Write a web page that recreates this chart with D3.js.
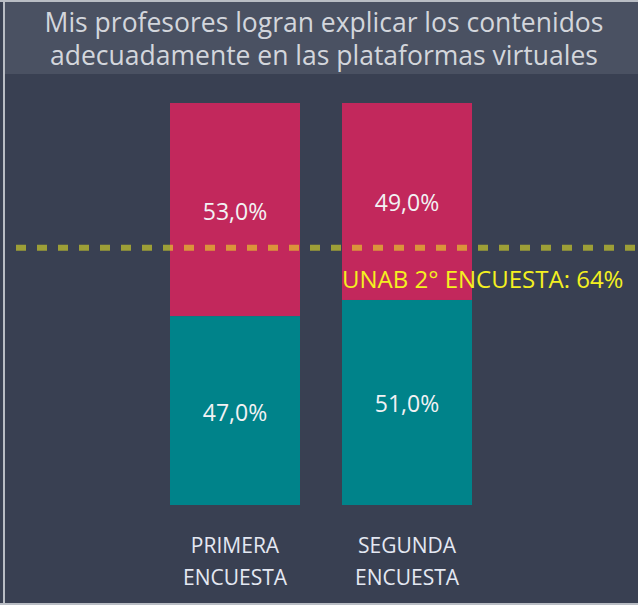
<!DOCTYPE html>
<html><head><meta charset="utf-8">
<script src="https://cdn.jsdelivr.net/npm/d3@7"></script>
<style>body{margin:0;background:#394052;}svg{display:block;}</style>
</head><body>
<svg id="c" width="638" height="605"></svg>
<script>
const titleLines = ["Mis profesores logran explicar los contenidos", "adecuadamente en las plataformas virtuales"];
const categories = [["PRIMERA","ENCUESTA"], ["SEGUNDA","ENCUESTA"]];
const catKeys = ["PRIMERA ENCUESTA", "SEGUNDA ENCUESTA"];
const seriesNo = [53.0, 49.0];   // top (pink)
const seriesYes = [47.0, 51.0];  // bottom (teal)
const refValue = 64;
const refLabel = "UNAB 2° ENCUESTA: 64%";

const svg = d3.select("#c");
const W = 638, H = 605;
const font = "'Open Sans', 'Noto Sans', sans-serif";

svg.append("rect").attr("x",0).attr("y",0).attr("width",W).attr("height",H).attr("fill","#394052");
// title band
svg.append("rect").attr("x",5).attr("y",2).attr("width",W-5).attr("height",72).attr("fill","#4a5162");
// frame lines
svg.append("rect").attr("x",0).attr("y",0).attr("width",W).attr("height",2).attr("fill","#b9bdc4");
svg.append("rect").attr("x",3).attr("y",0).attr("width",2).attr("height",H).attr("fill","#b9bdc4");
svg.append("rect").attr("x",0).attr("y",H-2).attr("width",W).attr("height",2).attr("fill","#b9bdc4");

svg.append("text").attr("x",324).attr("y",32).attr("text-anchor","middle")
  .attr("font-family",font).attr("font-size",26.5).attr("fill","#d3d6dc")
  .selectAll("tspan").data(titleLines).join("tspan")
  .attr("x",324).attr("dy",(d,i)=>i?33:0).text(d=>d);

const x = d3.scaleBand().domain(catKeys).range([170,472]).paddingInner(42/172).paddingOuter(0);
const y = d3.scaleLinear().domain([0,100]).range([505,103]);

const data = catKeys.map((k,i)=>({k, yes: seriesYes[i], no: seriesNo[i], lines: categories[i]}));

const g = svg.append("g");
// teal bottom
g.selectAll(".yes").data(data).join("rect")
  .attr("x",d=>x(d.k)).attr("width",x.bandwidth())
  .attr("y",d=>y(d.yes)).attr("height",d=>y(0)-y(d.yes)).attr("fill","#00838a");
// pink top
g.selectAll(".no").data(data).join("rect")
  .attr("x",d=>x(d.k)).attr("width",x.bandwidth())
  .attr("y",d=>y(d.yes+d.no)).attr("height",d=>y(d.yes)-y(d.yes+d.no)).attr("fill","#c2285c");

const fmt = v => v.toFixed(1).replace(".", ",") + "%";
g.selectAll(".ly").data(data).join("text")
  .attr("x",d=>x(d.k)+x.bandwidth()/2).attr("y",d=>y(d.yes/2)+10)
  .attr("text-anchor","middle").attr("font-family",font).attr("font-size",23).attr("fill","#f2f2f4")
  .text(d=>fmt(d.yes));
g.selectAll(".ln").data(data).join("text")
  .attr("x",d=>x(d.k)+x.bandwidth()/2).attr("y",d=>y(d.yes + d.no/2)+10)
  .attr("text-anchor","middle").attr("font-family",font).attr("font-size",23).attr("fill","#f2f2f4")
  .text(d=>fmt(d.no));

// reference line
svg.append("line").attr("x1",16).attr("x2",W).attr("y1",y(refValue)).attr("y2",y(refValue))
  .attr("stroke","#f0ec21").attr("stroke-opacity",0.55).attr("stroke-width",6)
  .attr("stroke-dasharray","10,11");
svg.append("text").attr("x",342).attr("y",y(refValue)+40.5)
  .attr("font-family",font).attr("font-size",24).attr("fill","#f4f020").text(refLabel);

// category labels
const cl = svg.selectAll(".cat").data(data).join("text")
  .attr("text-anchor","middle").attr("font-family",font).attr("font-size",21).attr("fill","#e4e8f2");
cl.selectAll("tspan").data(d=>d.lines.map(l=>({l, cx: x(d.k)+x.bandwidth()/2}))).join("tspan")
  .attr("x",d=>d.cx).attr("y",(d,i)=>553+i*32).text(d=>d.l);
</script>
</body></html>
